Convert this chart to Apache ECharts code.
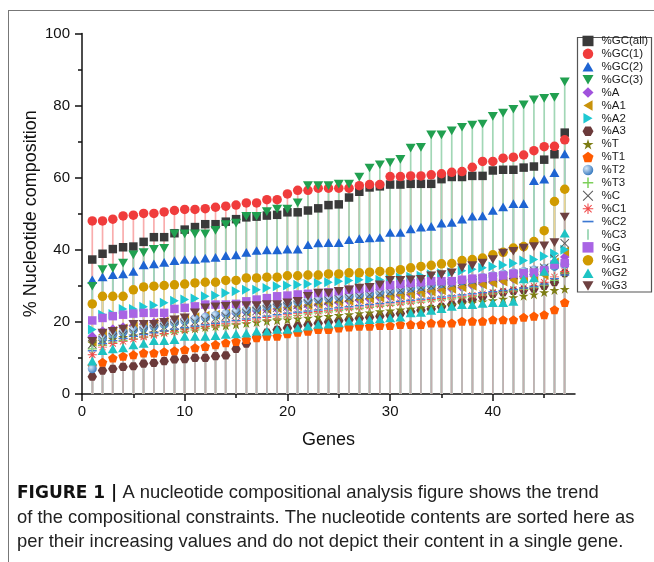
<!DOCTYPE html>
<html>
<head>
<meta charset="utf-8">
<script src="https://cdn.jsdelivr.net/npm/echarts@6/dist/echarts.min.js"></script>
<style>
  html, body { margin: 0; padding: 0; background: #fff; }
  #chart { width: 654px; height: 562px; }
</style>
</head>
<body>
<div id="chart"></div>
<script>
// gene index (sorted position)
const genes = [1, 2, 3, 4, 5, 6, 7, 8, 9, 10, 11, 12, 13, 14, 15, 16, 17, 18, 19, 20,
  21, 22, 23, 24, 25, 26, 27, 28, 29, 30, 31, 32, 33, 34, 35, 36, 37, 38, 39, 40,
  41, 42, 43, 44, 45, 46, 47]

const gcAll = [37.3, 38.9, 40.2, 40.7, 40.9, 42.2, 43.5, 43.5, 44.6, 45.6, 46.3, 47.1, 47.1, 47.8, 48.5, 49.0,
  49.2, 49.5, 49.7, 50.4, 50.4, 50.9, 51.5, 52.4, 52.6, 54.5, 56.1, 57.3, 57.6, 58.1, 58.1, 58.3,
  58.3, 58.3, 59.6, 60.2, 60.2, 60.5, 60.5, 62.0, 62.2, 62.2, 62.8, 63.1, 65.0, 66.5, 72.5]
const gc1 = [48.0, 48.0, 48.5, 49.4, 49.6, 50.1, 50.1, 50.5, 50.9, 51.2, 51.2, 51.4, 51.8, 52.1, 52.4, 53.0,
  53.0, 53.9, 53.9, 55.5, 56.5, 56.5, 57.1, 57.1, 57.1, 57.1, 57.8, 58.1, 58.1, 60.3, 60.3, 60.5,
  60.5, 60.8, 61.1, 61.5, 61.7, 62.9, 64.5, 64.5, 65.4, 65.7, 66.3, 67.5, 68.6, 68.7, 70.5]
const gc2 = [31.7, 32.5, 33.1, 33.3, 34.0, 35.8, 36.1, 36.5, 37.0, 37.3, 37.3, 37.7, 37.9, 38.4, 38.6, 39.3,
  39.8, 40.0, 40.0, 40.2, 40.2, 41.4, 41.9, 42.0, 42.0, 42.8, 43.1, 43.3, 43.4, 44.8, 44.8, 45.8,
  46.3, 46.5, 47.4, 47.6, 48.5, 49.3, 49.4, 50.9, 51.9, 52.8, 52.8, 59.2, 59.6, 61.4, 66.6]
const gc3 = [29.9, 34.5, 34.9, 36.3, 38.6, 39.2, 40.1, 40.4, 44.4, 44.4, 44.4, 44.4, 45.4, 47.0, 47.4, 49.3,
  49.3, 50.6, 51.3, 51.3, 53.0, 57.8, 57.8, 57.8, 58.2, 58.2, 60.2, 62.7, 63.6, 64.2, 65.1, 68.2,
  68.4, 71.9, 71.9, 73.0, 74.0, 74.6, 74.9, 77.0, 77.9, 79.0, 80.2, 81.6, 82.0, 82.3, 86.6]
const pctA = [16.0, 17.5, 18.0, 18.6, 19.0, 19.4, 19.8, 20.2, 20.5, 20.8, 21.2, 21.5, 21.7, 22.0, 22.3, 22.7,
  23.0, 23.3, 23.6, 23.9, 24.2, 24.5, 24.8, 25.1, 25.4, 25.7, 26.0, 26.3, 26.6, 26.9, 27.2, 27.5,
  27.9, 28.3, 28.7, 29.1, 29.5, 30.0, 30.5, 31.0, 31.5, 32.0, 32.6, 33.2, 34.0, 35.5, 38.0]
const pctA1 = [14.5, 16.5, 17.5, 18.2, 18.7, 19.2, 19.7, 20.1, 20.5, 20.9, 21.3, 21.7, 22.0, 22.3, 22.6, 22.9,
  23.2, 23.5, 23.8, 24.1, 24.4, 24.7, 25.0, 25.3, 25.6, 25.9, 26.2, 26.5, 26.8, 27.1, 27.4, 27.7,
  28.0, 28.4, 28.8, 29.2, 29.6, 30.0, 30.4, 30.8, 31.2, 31.6, 32.0, 32.5, 33.0, 36.5, 39.5]
const pctA2 = [17.9, 22.0, 22.2, 23.6, 23.6, 24.2, 24.6, 25.3, 25.9, 26.2, 26.5, 27.1, 27.3, 28.0, 28.5, 28.9,
  28.9, 29.4, 29.9, 30.1, 30.3, 30.5, 30.8, 31.0, 31.3, 31.5, 31.7, 31.7, 31.7, 32.0, 32.3, 32.5,
  32.8, 33.2, 33.5, 33.8, 34.2, 34.6, 35.0, 35.4, 35.8, 36.3, 37.0, 37.3, 38.2, 39.0, 40.0]
const pctA3 = [4.8, 6.5, 7.0, 7.5, 7.7, 8.4, 8.6, 9.1, 9.6, 9.7, 10.0, 10.0, 10.5, 10.7, 12.5, 14.0,
  15.8, 17.0, 17.8, 18.3, 18.8, 19.2, 19.6, 20.0, 20.3, 20.6, 21.0, 21.3, 21.6, 21.9, 22.3, 22.8,
  23.2, 23.6, 24.2, 24.8, 25.6, 26.2, 27.0, 27.8, 28.2, 28.6, 28.9, 29.2, 30.0, 31.0, 33.5]
const pctT = [14.2, 14.6, 15.3, 15.8, 16.2, 16.6, 17.0, 17.3, 17.6, 17.9, 18.2, 18.5, 18.8, 19.0, 19.3, 19.6,
  19.9, 20.2, 20.4, 20.6, 20.9, 21.1, 21.4, 21.6, 21.9, 22.1, 22.4, 22.6, 22.9, 23.1, 23.4, 23.6,
  23.9, 24.1, 24.4, 24.7, 25.0, 25.3, 25.6, 26.0, 26.4, 26.8, 27.2, 27.6, 28.2, 28.8, 29.1]
const pctT1 = [7.8, 8.8, 10.0, 10.5, 10.9, 11.4, 11.4, 11.7, 12.0, 12.3, 12.8, 13.2, 13.7, 14.2, 14.6, 15.1,
  15.6, 16.0, 16.0, 16.7, 17.1, 17.4, 17.9, 17.9, 18.3, 18.6, 18.8, 18.8, 19.0, 19.0, 19.3, 19.3,
  19.3, 19.7, 19.7, 19.7, 20.2, 20.2, 20.2, 20.6, 20.6, 20.6, 21.3, 21.6, 22.0, 23.4, 25.4]
const pctT2 = [7.0, 15.5, 16.5, 17.2, 17.8, 18.3, 18.8, 19.3, 19.8, 20.3, 20.8, 21.3, 21.8, 22.3, 22.8, 23.3,
  23.8, 24.3, 24.8, 25.2, 25.6, 26.0, 26.3, 26.6, 26.9, 27.2, 27.5, 27.8, 28.2, 28.6, 29.0, 29.4,
  29.8, 30.2, 30.6, 31.0, 31.4, 31.8, 32.3, 32.8, 33.3, 33.6, 34.0, 34.4, 34.8, 35.4, 36.0]
const pctT3 = [12.5, 13.5, 14.2, 14.8, 15.3, 15.8, 16.2, 16.6, 17.0, 17.4, 17.8, 18.2, 18.6, 19.0, 19.4, 19.8,
  20.2, 20.6, 21.0, 21.4, 21.8, 22.2, 22.5, 22.8, 23.1, 23.4, 23.7, 24.0, 24.3, 24.6, 24.9, 25.2,
  25.5, 25.8, 26.1, 26.4, 26.7, 27.0, 27.4, 27.8, 28.2, 28.6, 29.0, 29.5, 30.2, 31.5, 33.5]
const pctC = [13.8, 15.0, 15.8, 16.4, 17.0, 17.5, 18.0, 18.5, 19.0, 19.5, 20.0, 20.5, 21.0, 21.5, 22.0, 22.5,
  23.0, 23.5, 23.9, 24.3, 24.7, 25.1, 25.5, 25.9, 26.3, 26.7, 27.1, 27.5, 27.9, 28.3, 28.7, 29.1,
  29.5, 29.9, 30.3, 30.7, 31.1, 31.5, 31.9, 32.3, 32.7, 33.1, 33.6, 34.2, 35.0, 37.5, 41.8]
const pctC1 = [10.9, 13.0, 14.0, 14.6, 15.2, 15.8, 16.3, 16.8, 17.3, 17.8, 18.3, 18.8, 19.2, 19.6, 20.0, 20.4,
  20.8, 21.2, 21.6, 22.0, 22.3, 22.6, 22.9, 23.2, 23.5, 23.8, 24.1, 24.4, 24.7, 25.0, 25.3, 25.6,
  25.9, 26.2, 26.5, 26.8, 27.1, 27.4, 27.8, 28.2, 28.6, 29.0, 29.5, 30.0, 31.0, 32.5, 34.0]
const pctC2 = [12.0, 14.0, 14.8, 15.4, 16.0, 16.5, 17.0, 17.5, 18.0, 18.4, 18.8, 19.2, 19.6, 20.0, 20.4, 20.8,
  21.2, 21.6, 22.0, 22.4, 22.7, 23.0, 23.3, 23.6, 23.9, 24.2, 24.5, 24.8, 25.1, 25.4, 25.7, 26.0,
  26.3, 26.6, 26.9, 27.2, 27.5, 27.8, 28.1, 28.4, 28.7, 29.0, 29.4, 29.8, 30.5, 32.0, 33.0]
const pctC3 = [13.0, 14.5, 15.2, 15.8, 16.3, 16.8, 17.3, 17.8, 18.3, 18.8, 19.2, 19.6, 20.0, 20.4, 20.8, 21.2,
  21.6, 22.0, 22.4, 22.7, 23.0, 23.3, 23.6, 23.9, 24.2, 24.5, 24.8, 25.1, 25.4, 25.7, 26.0, 26.3,
  26.6, 26.9, 27.2, 27.5, 27.8, 28.1, 28.4, 28.7, 29.0, 29.3, 29.7, 30.1, 30.8, 32.0, 34.0]
const pctG = [20.4, 21.1, 21.6, 22.0, 22.3, 22.5, 22.5, 22.5, 23.6, 23.9, 24.3, 24.8, 24.8, 24.8, 25.0, 25.7,
  26.2, 26.6, 27.1, 27.3, 27.6, 27.8, 28.0, 28.2, 28.5, 28.9, 29.1, 29.4, 29.9, 30.2, 30.5, 30.8,
  31.0, 31.3, 31.3, 31.3, 31.7, 32.0, 32.2, 32.6, 32.9, 33.4, 33.5, 33.7, 34.3, 35.9, 36.3]
const pctG1 = [25.0, 27.1, 27.1, 27.1, 28.9, 29.7, 29.9, 30.1, 30.3, 30.5, 30.8, 31.0, 31.0, 31.5, 31.5, 32.2,
  32.2, 32.4, 32.4, 32.8, 32.8, 33.0, 33.0, 33.3, 33.3, 33.6, 33.6, 33.8, 34.0, 34.0, 34.5, 35.0,
  35.4, 35.7, 36.1, 36.2, 37.0, 37.3, 37.7, 38.6, 39.3, 40.5, 40.9, 42.3, 45.3, 53.4, 56.8]
const pctG2 = [9.1, 12.0, 12.5, 12.8, 13.6, 14.0, 14.8, 14.8, 15.1, 16.0, 16.0, 16.0, 16.2, 16.5, 16.7, 16.9,
  17.4, 17.4, 17.9, 17.9, 18.3, 18.8, 19.3, 19.4, 19.7, 20.2, 20.4, 20.6, 20.8, 21.1, 21.3, 22.5,
  22.6, 23.2, 23.7, 24.3, 24.8, 24.8, 25.1, 25.3, 25.3, 25.7, 31.9, 32.2, 34.0, 37.3, 44.6]
const pctG3 = [14.6, 16.9, 17.4, 18.0, 19.3, 19.3, 19.3, 19.9, 20.6, 21.1, 22.5, 23.9, 24.2, 24.3, 24.5, 24.5,
  24.5, 24.8, 24.8, 25.3, 25.7, 27.1, 28.0, 28.0, 28.5, 28.9, 29.4, 29.6, 30.3, 31.5, 31.5, 31.7,
  31.8, 32.8, 33.1, 33.6, 35.0, 35.6, 36.3, 37.3, 39.1, 39.6, 40.5, 40.9, 41.1, 42.0, 49.1]

const yTicks = [0, 20, 40, 60, 80, 100]
const xTicks = [0, 10, 20, 30, 40]
const xMinorTicks = [5, 15, 25, 35, 45]

// Origin-like marker shapes
const SYM = {
  down: 'path://M0,0L10,0L5,8.66Z',
  up: 'path://M5,0L10,8.66L0,8.66Z',
  left: 'path://M0,5L8.66,0L8.66,10Z',
  right: 'path://M0,0L8.66,5L0,10Z',
  hex: 'path://M25,0L75,0L100,43.3L75,86.6L25,86.6L0,43.3Z',
  star: 'path://M50,0L61.17,34.63L97.55,34.55L68.07,55.87L79.39,90.45L50,69L20.61,90.45L31.93,55.87L2.45,34.55L38.83,34.63Z',
  pent: 'path://M50,0L97.55,34.55L79.39,90.45L20.61,90.45L2.45,34.55Z',
  plus: 'path://M0,4.3L10,4.3L10,5.7L0,5.7Z M4.3,0L5.7,0L5.7,10L4.3,10Z',
  cross: 'path://M0,0.7L0.7,0L10,9.3L9.3,10Z M9.3,0L10,0.7L0.7,10L0,9.3Z',
  aster: 'path://M0,4.5L10,4.5L10,5.5L0,5.5Z M4.5,0L5.5,0L5.5,10L4.5,10Z M1.2,1.9L1.9,1.2L8.8,8.1L8.1,8.8Z M8.1,1.2L8.8,1.9L1.9,8.8L1.2,8.1Z',
  dash: 'path://M0,0L10,0L10,1.5L0,1.5Z',
  vbar: 'path://M0,0L1.5,0L1.5,10L0,10Z'
}

const sphere = new echarts.graphic.RadialGradient(0.35, 0.35, 0.65, [
  { offset: 0, color: '#d8e8f7' },
  { offset: 1, color: '#3f7fc2' }
])

const seriesDefs = [
  { name: '%GC(all)', data: gcAll, color: '#3a3a3a', symbol: 'rect', size: 8.5 },
  { name: '%GC(1)', data: gc1, color: '#f03c3c', symbol: 'circle', size: 9.5 },
  { name: '%GC(2)', data: gc2, color: '#1e64d2', symbol: SYM.up, size: 10 },
  { name: '%GC(3)', data: gc3, color: '#21a050', symbol: SYM.down, size: 10 },
  { name: '%A', data: pctA, color: '#a052dc', symbol: 'diamond', size: 9.5 },
  { name: '%A1', data: pctA1, color: '#c8920a', symbol: SYM.left, size: 10 },
  { name: '%A2', data: pctA2, color: '#1ec8d2', symbol: SYM.right, size: 10 },
  { name: '%A3', data: pctA3, color: '#6b3a3a', symbol: SYM.hex, size: 9.5 },
  { name: '%T', data: pctT, color: '#7d7d14', symbol: SYM.star, size: 10 },
  { name: '%T1', data: pctT1, color: '#ff5a00', symbol: SYM.pent, size: 9.5 },
  { name: '%T2', data: pctT2, color: sphere, symbol: 'circle', size: 9 },
  { name: '%T3', data: pctT3, color: '#7dd05a', symbol: SYM.plus, size: 9 },
  { name: '%C', data: pctC, color: '#5a5a5a', symbol: SYM.cross, size: 9 },
  { name: '%C1', data: pctC1, color: '#f04a4a', symbol: SYM.aster, size: 9 },
  { name: '%C2', data: pctC2, color: '#3c78d2', symbol: SYM.dash, size: 9 },
  { name: '%C3', data: pctC3, color: '#8cd0aa', symbol: SYM.vbar, size: 9 },
  { name: '%G', data: pctG, color: '#a964e4', symbol: 'rect', size: 8.5 },
  { name: '%G1', data: pctG1, color: '#d09a00', symbol: 'circle', size: 9.5 },
  { name: '%G2', data: pctG2, color: '#1ec3c3', symbol: SYM.up, size: 10 },
  { name: '%G3', data: pctG3, color: '#6e4141', symbol: SYM.down, size: 10 }
]

const stemBase = {
  '%T2': '#5a96d2'
}

// blend a colour with white, for the drop lines
function tint(hex, a) {
  const n = parseInt(hex.slice(1), 16)
  const r = (n >> 16) & 255, g = (n >> 8) & 255, b = n & 255
  const m = v => Math.round(v * a + 255 * (1 - a))
  return 'rgb(' + m(r) + ',' + m(g) + ',' + m(b) + ')'
}

const series = []
seriesDefs.forEach(d => {
  const pts = genes.map((g, i) => [g, d.data[i]])
  const stemColor = tint(stemBase[d.name] || d.color, 0.42)
  series.push({
    type: 'custom',
    name: d.name + ' stem',
    silent: true,
    z: 1,
    data: pts,
    renderItem: (params, api) => {
      const p0 = api.coord([api.value(0), 0])
      const p1 = api.coord([api.value(0), api.value(1)])
      return {
        type: 'line',
        shape: { x1: p0[0], y1: p0[1], x2: p1[0], y2: p1[1] },
        style: { stroke: stemColor, lineWidth: 1.7 }
      }
    }
  })
  series.push({
    type: 'scatter',
    name: d.name,
    z: 2,
    data: pts,
    symbol: d.symbol,
    symbolSize: d.size,
    symbolKeepAspect: true,
    itemStyle: { color: d.color, opacity: 1 }
  })
})

const font = 'Liberation Sans, Arial, sans-serif'
const gridBox = { left: 82, right: 79, top: 33.5, bottom: 168 }

const chart = echarts.init(document.getElementById('chart'))
chart.setOption({
  animation: false,
  backgroundColor: '#fff',
  textStyle: { fontFamily: font },
  grid: [Object.assign({}, gridBox), Object.assign({}, gridBox)],
  xAxis: [
    {
      type: 'value', gridIndex: 0, min: 0, max: 48, interval: 10,
      name: 'Genes', nameLocation: 'middle', nameGap: 37,
      nameTextStyle: { fontSize: 18, color: '#111', fontFamily: font },
      axisLine: { lineStyle: { color: '#111', width: 1.5 } },
      axisTick: { length: 7, customValues: xTicks, lineStyle: { color: '#111', width: 1.5 } },
      axisLabel: { customValues: xTicks, margin: 10, fontSize: 15, color: '#111', fontFamily: font },
      splitLine: { show: false }
    },
    {
      type: 'value', gridIndex: 1, min: 0, max: 48,
      axisLine: { show: false },
      axisTick: { show: true, length: 4, customValues: xMinorTicks, lineStyle: { color: '#111', width: 1.5 } },
      axisLabel: { show: false },
      splitLine: { show: false }
    }
  ],
  yAxis: [
    {
      type: 'value', gridIndex: 0, min: 0, max: 100, interval: 20,
      name: '% Nucleotide composition', nameLocation: 'middle', nameGap: 42, nameMoveOverlap: false,
      nameTextStyle: { fontSize: 18, color: '#111', fontFamily: font },
      axisLine: { show: true, lineStyle: { color: '#111', width: 1.5 } },
      axisTick: { show: true, length: 7, lineStyle: { color: '#111', width: 1.5 } },
      minorTick: { show: true, splitNumber: 2, length: 4, lineStyle: { color: '#111', width: 1.5 } },
      axisLabel: { customValues: yTicks, margin: 12, fontSize: 15, color: '#111', fontFamily: font },
      splitLine: { show: false }
    },
    { type: 'value', gridIndex: 1, min: 0, max: 100, show: false }
  ],
  legend: {
    data: seriesDefs.map(d => d.name),
    orient: 'vertical',
    left: 582.5,
    top: 34.5,
    padding: 0,
    itemGap: 0,
    itemWidth: 11,
    itemHeight: 10.5,
    selectedMode: false,
    textStyle: { fontSize: 11.5, lineHeight: 12.9, color: '#1a1a1a', fontFamily: font, padding: [0, 0, 0, 3] }
  },
  graphic: [
    { type: 'line', shape: { x1: 8, y1: 10.5, x2: 654, y2: 10.5 }, style: { stroke: '#777', lineWidth: 1 } },
    { type: 'line', shape: { x1: 8.5, y1: 10, x2: 8.5, y2: 562 }, style: { stroke: '#777', lineWidth: 1 } },
    { type: 'rect', shape: { x: 577.5, y: 37.5, width: 74, height: 254.5 }, style: { fill: 'none', stroke: '#555', lineWidth: 1.2 } },
    {
      type: 'text', left: 17, top: 481,
      style: {
        text: '{b|FIGURE 1 |} A nucleotide compositional analysis figure shows the trend\n' +
          'of the compositional constraints. The nucleotide contents are sorted here as\n' +
          'per their increasing values and do not depict their content in a single gene.',
        font: '18.4px ' + font,
        fill: '#222',
        lineHeight: 24.5,
        rich: { b: { fontWeight: 'bold', fontSize: 17, fill: '#111', fontFamily: 'DejaVu Sans, ' + font } }
      }
    }
  ],
  series: series
})
</script>
</body>
</html>
